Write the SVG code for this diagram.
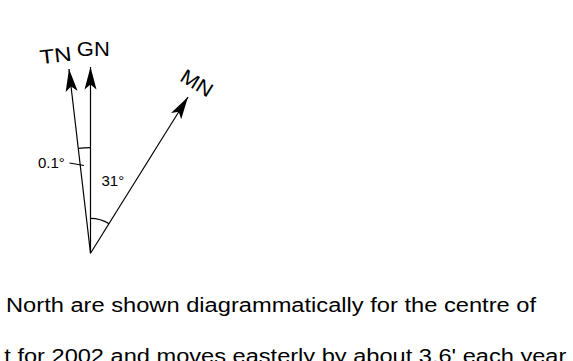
<svg xmlns="http://www.w3.org/2000/svg" width="573" height="361" viewBox="0 0 573 361">
  <style>
    .ln { stroke: #000; stroke-width: 1.2; fill: none; }
    .lbl { font-family: "Liberation Sans", Arial, sans-serif; fill: #000; }
    .big { font-size: 20px; }
    .ang { font-size: 15px; }
    .body { font-size: 20px; }
  </style>
  <defs>
    <marker id="ah" markerUnits="userSpaceOnUse" viewBox="-23 -7 24 14" refX="0" refY="0" markerWidth="24" markerHeight="14" orient="auto">
      <path d="M0,0 L-22.5,-6 L-17.5,0 L-22.5,6 Z" fill="#000"/>
    </marker>
  </defs>
  <rect width="573" height="361" fill="#fff"/>

  <g id="connectors">
    <line class="ln" x1="90.5" y1="253.3" x2="69" y2="69" marker-end="url(#ah)"/>
    <line class="ln" x1="90.5" y1="253.3" x2="90.5" y2="67" marker-end="url(#ah)"/>
    <line class="ln" x1="90.5" y1="253.3" x2="188" y2="97" marker-end="url(#ah)"/>
    <path class="ln" d="M90.5,218.3 A35,35 0 0 1 109.1,223.7"/>
    <path class="ln" d="M78.2,148.4 A105.6,105.6 0 0 1 90.5,147.7"/>
    <line class="ln" x1="69.5" y1="163" x2="84" y2="165.5"/>
  </g>

  <g id="node-TN">
    <text class="lbl big" transform="translate(55.5,55.5) rotate(-6.5)" x="0" y="7" text-anchor="middle" textLength="32" lengthAdjust="spacingAndGlyphs">TN</text>
  </g>
  <g id="node-GN">
    <text class="lbl big" x="93.3" y="56" text-anchor="middle" textLength="33" lengthAdjust="spacingAndGlyphs">GN</text>
  </g>
  <g id="node-MN">
    <text class="lbl big" transform="translate(197,83) rotate(32)" x="0" y="7" text-anchor="middle" textLength="34" lengthAdjust="spacingAndGlyphs">MN</text>
  </g>
  <g id="angle-labels">
    <text class="lbl ang" x="38" y="168.3">0.1°</text>
    <text class="lbl ang" x="101.5" y="185.5">31°</text>
  </g>
  <g id="caption">
    <text class="lbl body" x="6" y="311.5" textLength="530" lengthAdjust="spacingAndGlyphs">North are shown diagrammatically for the centre of</text>
    <text class="lbl body" x="4.3" y="363" textLength="562" lengthAdjust="spacingAndGlyphs">t for 2002 and moves easterly by about 3.6' each year</text>
  </g>
</svg>
